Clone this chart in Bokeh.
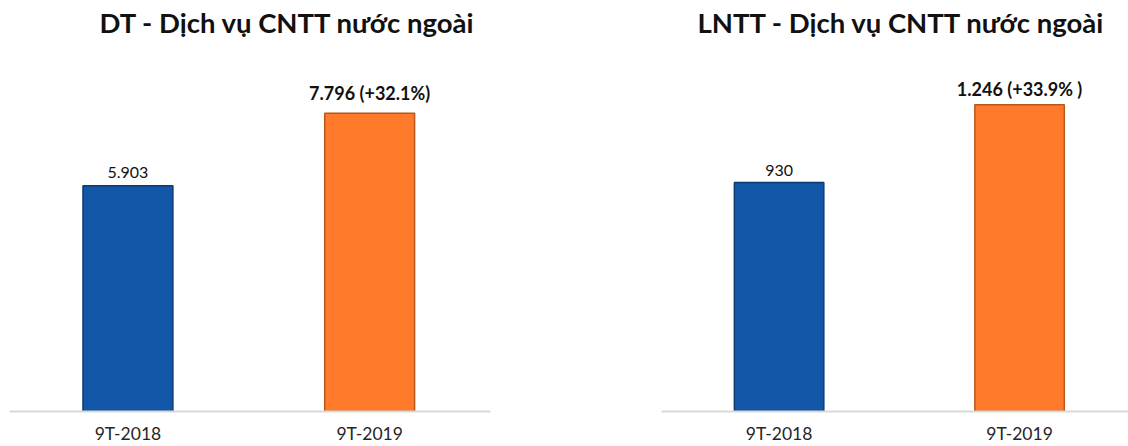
from bokeh.plotting import figure
from bokeh.models import ColumnDataSource, Range1d, FixedTicker, Title
from bokeh.layouts import row
from bokeh.embed import file_html
from bokeh.resources import INLINE
from bokeh.core.properties import value

periods = ["9T-2018", "9T-2019"]
dt_values = [5903, 7796]
dt_labels = ["5.903", "7.796 (+32.1%)"]
lntt_values = [930, 1246]
lntt_labels = ["930", "1.246 (+33.9% )"]
titles = ["DT - Dịch vụ CNTT nước ngoài", "LNTT - Dịch vụ CNTT nước ngoài"]

FILLS = ["#1257a7", "#ff7b2b"]
EDGES = ["#0b3b73", "#b8561c"]
STYLES = ["normal", "bold"]
SIZES = ["16px", "18px"]
FONT = "Lato"


def panel(title, values, labels, offs, x_start, x_end, bl, br, y_end, t_off):
    xs = [i + 0.5 for i in range(len(periods))]
    src = ColumnDataSource(dict(x=xs, top=values, label=labels, fill=FILLS,
                                edge=EDGES, style=STYLES, size=SIZES, off=offs))
    p = figure(width=564, height=446, output_backend="svg", toolbar_location=None,
               x_range=Range1d(x_start, x_end), y_range=Range1d(0, y_end),
               min_border_left=bl, min_border_right=br, min_border_top=40,
               min_border_bottom=34)
    p.title = Title(text=title, text_font=FONT, text_font_size="27.5px",
                    text_font_style="bold", text_color="#111111", align="left",
                    offset=t_off, standoff=4)
    p.vbar(x="x", top="top", width=0.372, bottom=0, source=src,
           fill_color="fill", line_color="edge", line_width=1.5)
    p.text(x="x", y="top", text="label", source=src, text_align="center",
           text_baseline="alphabetic", y_offset="off", text_font=value(FONT),
           text_font_size="size", text_font_style="style", text_color="#111111")
    p.outline_line_color = None
    p.xgrid.visible = False
    p.ygrid.visible = False
    p.yaxis.visible = False
    ax = p.xaxis[0]
    ax.ticker = FixedTicker(ticks=xs)
    ax.major_label_overrides = {x: lab for x, lab in zip(xs, periods)}
    ax.major_tick_line_color = None
    ax.minor_tick_line_color = None
    ax.major_tick_out = 0
    ax.major_tick_in = 0
    ax.axis_line_color = "#d9d9d9"
    ax.axis_line_width = 2
    ax.major_label_text_font = FONT
    ax.major_label_text_font_size = "17.5px"
    ax.major_label_text_color = "#262626"
    ax.major_label_standoff = 11
    return p


left = panel(titles[0], dt_values, dt_labels, [-13, -20], 0.01, 2.0, 9, 74, 9700, 90)
right = panel(titles[1], lntt_values, lntt_labels, [-12, -16], 0.011, 1.953, 97, 0, 1507, 36)

page = row(left, right)
open("out.html", "w").write(file_html(page, INLINE))
